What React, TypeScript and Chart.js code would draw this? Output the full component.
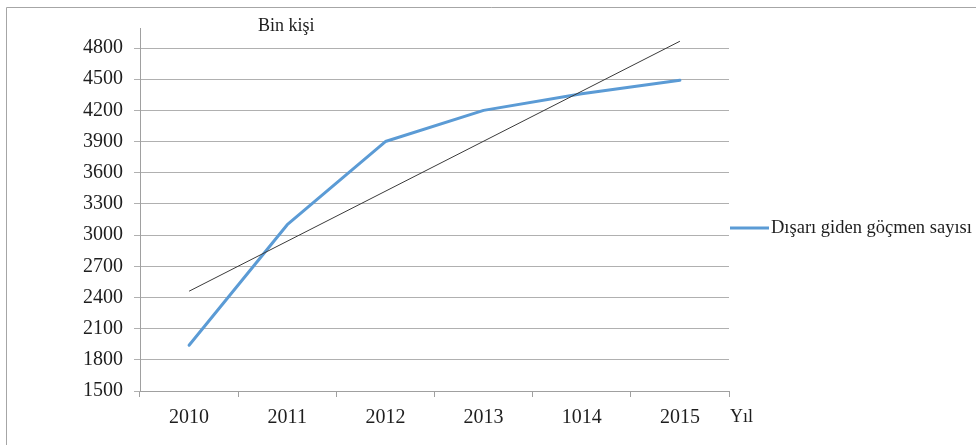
import React, { useEffect, useRef } from "react";
import { Chart, registerables } from "chart.js";

Chart.register(...registerables);

// ---- data ----
const categories = ["2010", "2011", "2012", "2013", "1014", "2015"];
const emigrants = [1940, 3100, 3900, 4200, 4360, 4490];
const trendValues = [2460, null, null, null, null, 4865];
const yMin = 1500;
const yMax = 4800;
const yStep = 300;
const seriesLabel = "Dışarı giden göçmen sayısı";
const yTitle = "Bin kişi";
const xTitle = "Yıl";

// ---- styles ----
const FONT = "'Liberation Serif', 'Times New Roman', serif";
const TEXT = "#1e1e1e";
const GRID = "#b0b0b0";
const AXIS = "#a0a0a0";
const BLUE = "#5b9bd5";
const TREND = "#3a3a3a";

const overlay = {
  id: "overlay",
  afterDraw(chart: any) {
    const ctx = chart.ctx as CanvasRenderingContext2D;
    const a = chart.chartArea;
    ctx.save();
    // outer frame
    ctx.strokeStyle = "#a6a6a6";
    ctx.lineWidth = 1;
    ctx.beginPath();
    ctx.moveTo(6.5, chart.height);
    ctx.lineTo(6.5, 7.5);
    ctx.lineTo(chart.width, 7.5);
    ctx.stroke();
    // y axis extension above top gridline
    ctx.strokeStyle = AXIS;
    ctx.beginPath();
    const ax = Math.round(a.left - 0.5) + 0.5;
    ctx.moveTo(ax, 28);
    ctx.lineTo(ax, a.top);
    ctx.stroke();
    // titles
    ctx.fillStyle = TEXT;
    ctx.textBaseline = "alphabetic";
    ctx.textAlign = "left";
    ctx.font = `18px ${FONT}`;
    ctx.fillText(yTitle, 258, 31);
    ctx.fillText(xTitle, a.right + 1, 422);
    // legend
    const ly = 228;
    ctx.strokeStyle = BLUE;
    ctx.lineWidth = 3;
    ctx.beginPath();
    ctx.moveTo(a.right + 1, ly);
    ctx.lineTo(a.right + 40, ly);
    ctx.stroke();
    ctx.font = `18.5px ${FONT}`;
    ctx.fillText(seriesLabel, a.right + 42, 233);
    ctx.restore();
  },
};

export default function App() {
  const ref = useRef<HTMLCanvasElement | null>(null);
  useEffect(() => {
    if (!ref.current) return;
    const chart = new Chart(ref.current, {
      type: "line",
      data: {
        labels: categories,
        datasets: [
          {
            label: "trend",
            data: trendValues as any,
            borderColor: TREND,
            borderWidth: 1,
            pointRadius: 0,
            spanGaps: true,
            fill: false,
            clip: false as any,
          },
          {
            label: seriesLabel,
            data: emigrants,
            borderColor: BLUE,
            borderWidth: 3,
            pointRadius: 0,
            borderCapStyle: "round",
            borderJoinStyle: "round",
            fill: false,
          },
        ],
      },
      options: {
        animation: false,
        responsive: true,
        maintainAspectRatio: false,
        layout: { padding: { top: 48, right: 247, left: 0, bottom: 0 } },
        plugins: {
          legend: { display: false },
          tooltip: { enabled: false },
          title: { display: false },
        },
        scales: {
          x: {
            offset: true,
            afterFit: (s: any) => {
              s.height = 54;
            },
            grid: {
              offset: true,
              drawOnChartArea: false,
              drawTicks: true,
              tickLength: 6,
              color: AXIS,
            },
            border: { display: true, color: AXIS },
            ticks: {
              color: TEXT,
              font: { family: FONT, size: 20 },
              padding: 9,
              maxRotation: 0,
            },
          },
          y: {
            min: yMin,
            max: yMax,
            afterFit: (s: any) => {
              s.width = 140;
            },
            grid: {
              color: GRID,
              drawTicks: true,
              tickLength: 6,
            },
            border: { display: true, color: AXIS },
            ticks: {
              stepSize: yStep,
              color: TEXT,
              font: { family: FONT, size: 20 },
              padding: 11,
              callback: (v: any) => String(v),
            },
          },
        },
      },
      plugins: [overlay],
    });
    return () => chart.destroy();
  }, []);
  return (
    <div
      style={{
        position: "fixed",
        left: 0,
        top: 0,
        width: 976,
        height: 445,
        background: "#fff",
      }}
    >
      <canvas ref={ref} />
    </div>
  );
}
